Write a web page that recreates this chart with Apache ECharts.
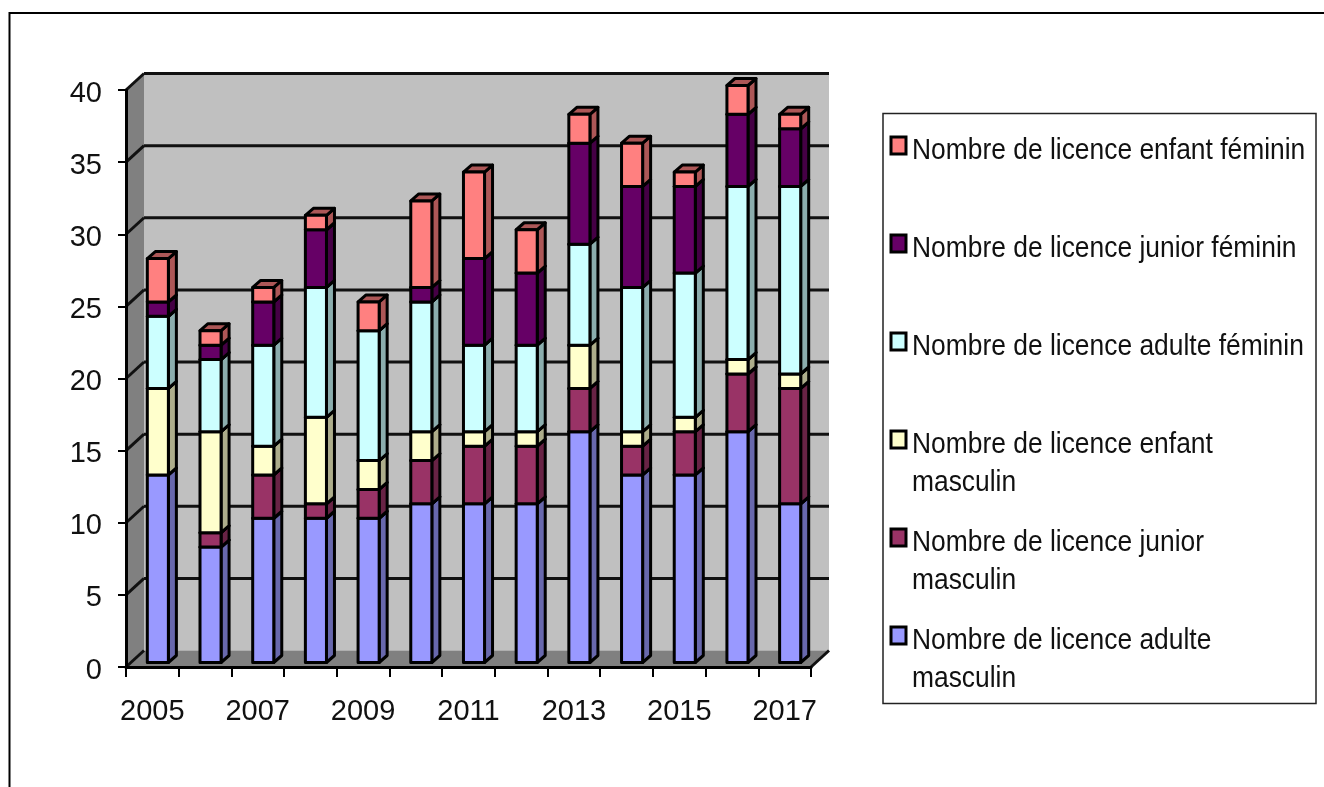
<!DOCTYPE html>
<html lang="fr">

<head>
    <meta charset="UTF-8">
    <title>Licences</title>
    <script src="https://cdnjs.cloudflare.com/ajax/libs/echarts/6.0.0/echarts.min.js"></script>
    <style>
        html, body { margin: 0; padding: 0; background: #fff; }
        #main { width: 1324px; height: 787px; }
    </style>
</head>

<body>
    <div id="main"></div>

    <script>
        const years = ["2005", "2006", "2007", "2008", "2009", "2010", "2011", "2012", "2013", "2014", "2015", "2016", "2017"];
        const yTicks = [0, 5, 10, 15, 20, 25, 30, 35, 40];

        // bottom of the stack first
        const adulteMasculin = [13, 8, 10, 10, 10, 11, 11, 11, 16, 13, 13, 16, 11];
        const juniorMasculin = [0, 1, 3, 1, 2, 3, 4, 4, 3, 2, 3, 4, 8];
        const enfantMasculin = [6, 7, 2, 6, 2, 2, 1, 1, 3, 1, 1, 1, 1];
        const adulteFeminin = [5, 5, 7, 9, 9, 9, 6, 6, 7, 10, 10, 12, 13];
        const juniorFeminin = [1, 1, 3, 4, 0, 1, 6, 5, 7, 7, 6, 5, 4];
        const enfantFeminin = [3, 1, 1, 1, 2, 6, 6, 3, 2, 3, 1, 2, 1];

        const layers = [adulteMasculin, juniorMasculin, enfantMasculin, adulteFeminin, juniorFeminin, enfantFeminin];
        const colors = ["#9999FF", "#993366", "#FFFFCC", "#CCFFFF", "#660066", "#FF8080"];
        const names = [
            "Nombre de licence adulte\nmasculin",
            "Nombre de licence junior\nmasculin",
            "Nombre de licence enfant\nmasculin",
            "Nombre de licence adulte féminin",
            "Nombre de licence junior féminin",
            "Nombre de licence enfant féminin"
        ];

        const font = "'Liberation Sans', Arial, sans-serif";

        // fake 3d depth, in pixels
        const wallDx = 18, wallDy = -16.5;
        const barDx = 5.5, barDy = -4.5, barDepthX = 8, barDepthY = -7;

        function shade(hex) {
            const n = parseInt(hex.slice(1), 16);
            const c = [n >> 16, (n >> 8) & 255, n & 255].map(v => Math.round(v * 0.68));
            return "rgb(" + c.join(",") + ")";
        }

        function renderWalls(params, api) {
            const band = api.size([1, 0])[0];
            const left = api.coord([0, 0])[0] - band / 2;
            const right = left + band * years.length;
            const y0 = api.coord([0, 0])[1];
            const y40 = api.coord([0, 40])[1];
            const edge = { stroke: "#111", lineWidth: 3 };
            const children = [
                { type: "polygon", shape: { points: [[left + wallDx, y0 + wallDy], [right + wallDx, y0 + wallDy], [right + wallDx, y40 + wallDy], [left + wallDx, y40 + wallDy]] }, style: { fill: "#C0C0C0" } },
                { type: "polygon", shape: { points: [[left, y0], [left + wallDx, y0 + wallDy], [left + wallDx, y40 + wallDy], [left, y40]] }, style: { fill: "#808080" } },
                { type: "polygon", shape: { points: [[left, y0], [right, y0], [right + wallDx, y0 + wallDy], [left + wallDx, y0 + wallDy]] }, style: { fill: "#808080" } },
                { type: "line", shape: { x1: right, y1: y0, x2: right + wallDx, y2: y0 + wallDy }, style: edge }
            ];
            yTicks.forEach(t => {
                const y = api.coord([0, t])[1];
                children.push({ type: "line", shape: { x1: left, y1: y, x2: left + wallDx, y2: y + wallDy }, style: edge });
                if (t > 0) {
                    children.push({ type: "line", shape: { x1: left + wallDx, y1: y + wallDy, x2: right + wallDx, y2: y + wallDy }, style: edge });
                }
            });
            return { type: "group", children: children };
        }

        function renderBar(params, api) {
            const base = api.value(1), top = api.value(2);
            if (top === base) return null;
            const color = colors[params.seriesIndex - 1];
            const dark = shade(color);
            const barW = api.size([1, 0])[0] * 0.4;
            const pb = api.coord([api.value(0), base]);
            const pt = api.coord([api.value(0), top]);
            const x1 = pb[0] - barW / 2 + barDx, x2 = x1 + barW;
            const yb = pb[1] + barDy, yt = pt[1] + barDy;
            const line = { stroke: "#000", lineWidth: 3, lineJoin: "round" };
            return {
                type: "group",
                children: [
                    { type: "polygon", shape: { points: [[x2, yb], [x2 + barDepthX, yb + barDepthY], [x2 + barDepthX, yt + barDepthY], [x2, yt]] }, style: { fill: dark, ...line } },
                    { type: "polygon", shape: { points: [[x1, yt], [x2, yt], [x2 + barDepthX, yt + barDepthY], [x1 + barDepthX, yt + barDepthY]] }, style: { fill: dark, ...line } },
                    { type: "rect", shape: { x: x1, y: yt, width: barW, height: yb - yt }, style: { fill: color, ...line } }
                ]
            };
        }

        function barData(values) {
            return values.map((v, i) => {
                let base = 0;
                for (const l of layers) {
                    if (l === values) break;
                    base += l[i];
                }
                return [i, base, base + v];
            });
        }

        // legend is drawn by hand: swatch stays on the first line of wrapped names
        const legendOrder = [5, 4, 3, 2, 1, 0];
        const legendItems = [];
        legendOrder.forEach((idx, row) => {
            const y = 137 + row * 98;
            legendItems.push({ type: "rect", shape: { x: 891, y: y, width: 15, height: 17 }, style: { fill: colors[idx], stroke: "#000", lineWidth: 3 } });
            legendItems.push({ type: "text", x: 912, y: y - 5, scaleX: 0.88, style: { text: names[idx], font: "30px " + font, fill: "#111", lineHeight: 38 } });
        });

        const chart = echarts.init(document.getElementById("main"));

        const option = {
            animation: false,
            backgroundColor: "#fff",
            grid: { left: 126, right: 513, top: 90, bottom: 120 },
            xAxis: {
                type: "category",
                data: years,
                z: 5,
                axisLine: { lineStyle: { color: "#000", width: 3 } },
                axisTick: { show: true, interval: 0, length: 10, lineStyle: { color: "#000", width: 2 } },
                axisLabel: { interval: 1, margin: 30, fontFamily: font, fontSize: 29, color: "#111" }
            },
            yAxis: {
                type: "value",
                min: 0,
                max: 40,
                interval: 5,
                z: 5,
                axisLine: { show: true, lineStyle: { color: "#000", width: 3 } },
                axisTick: { show: true, length: 8, lineStyle: { color: "#000", width: 2 } },
                axisLabel: {
                    margin: 24,
                    formatter: "{v|{value}}",
                    rich: { v: { padding: [7, 0, 0, 0], fontFamily: font, fontSize: 29, color: "#111" } }
                },
                splitLine: { show: false }
            },
            series: [
                { type: "custom", name: "walls", z: 1, silent: true, clip: false, renderItem: renderWalls, data: [[0]] }
            ].concat(layers.map((values, i) => ({
                type: "custom",
                name: names[i],
                z: 2,
                renderItem: renderBar,
                encode: { x: 0, y: [1, 2] },
                data: barData(values)
            }))),
            graphic: [
                { type: "polyline", shape: { points: [[9.5, 787], [9.5, 13], [1324, 13]] }, style: { stroke: "#000", lineWidth: 2, fill: null } },
                { type: "rect", shape: { x: 883, y: 113.5, width: 433, height: 590 }, style: { fill: "#fff", stroke: "#222", lineWidth: 1.5 } },
                { type: "group", children: legendItems }
            ]
        };

        chart.setOption(option);
    </script>
</body>

</html>
